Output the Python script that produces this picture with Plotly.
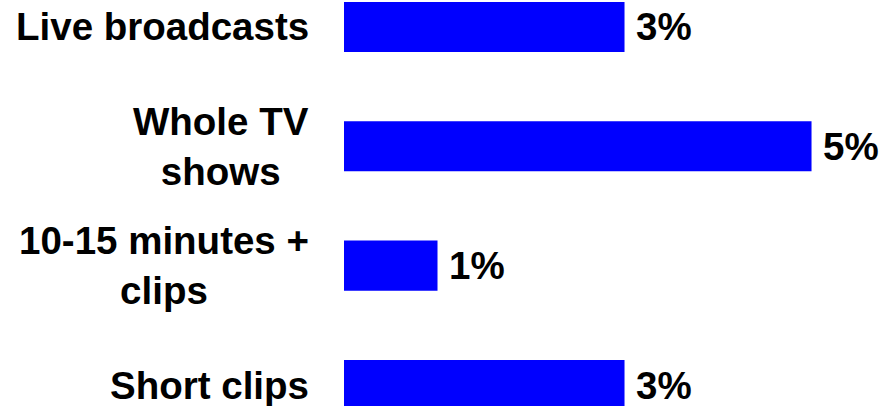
import plotly.graph_objects as go

categories = ["Live broadcasts", "Whole TV<br>shows", "10-15 minutes +<br>clips", "Short clips"]
values = [3, 5, 1, 3]
value_labels = ["3%", "5%", "1%", "3%"]

FONT = "Liberation Sans, Arial, sans-serif"
BLUE = "#0000FF"
FSIZE = 38.5

fig = go.Figure()
fig.add_trace(go.Bar(
    x=values,
    y=categories,
    orientation="h",
    width=0.42,
    marker=dict(color=BLUE, line=dict(width=0)),
    hoverinfo="skip",
))

annotations = []
for cat in categories:
    annotations.append(dict(
        x=0, y=cat, xref="x", yref="y", text="<b>%s</b>" % cat,
        xanchor="right", yanchor="middle", align="center", xshift=-33,
        showarrow=False, font=dict(family=FONT, size=FSIZE, color="black"),
    ))
for cat, v, lab in zip(categories, values, value_labels):
    annotations.append(dict(
        x=v, y=cat, xref="x", yref="y", text="<b>%s</b>" % lab,
        xanchor="left", yanchor="middle", xshift=9,
        showarrow=False, font=dict(family=FONT, size=FSIZE, color="black"),
    ))

fig.update_layout(
    width=881, height=406,
    margin=dict(l=344, r=0, t=0, b=0),
    paper_bgcolor="white", plot_bgcolor="white",
    showlegend=False,
    annotations=annotations,
    xaxis=dict(range=[0, 5.743], visible=False, showgrid=False, zeroline=False),
    yaxis=dict(type="category", categoryorder="array", categoryarray=categories,
               range=[3.176, -0.226], showticklabels=False, showgrid=False,
               zeroline=False, showline=False, ticks=""),
)

fig.write_html("out.html", config={"displayModeBar": False},
               post_script="document.body.style.margin='0';document.body.style.overflow='hidden';")
